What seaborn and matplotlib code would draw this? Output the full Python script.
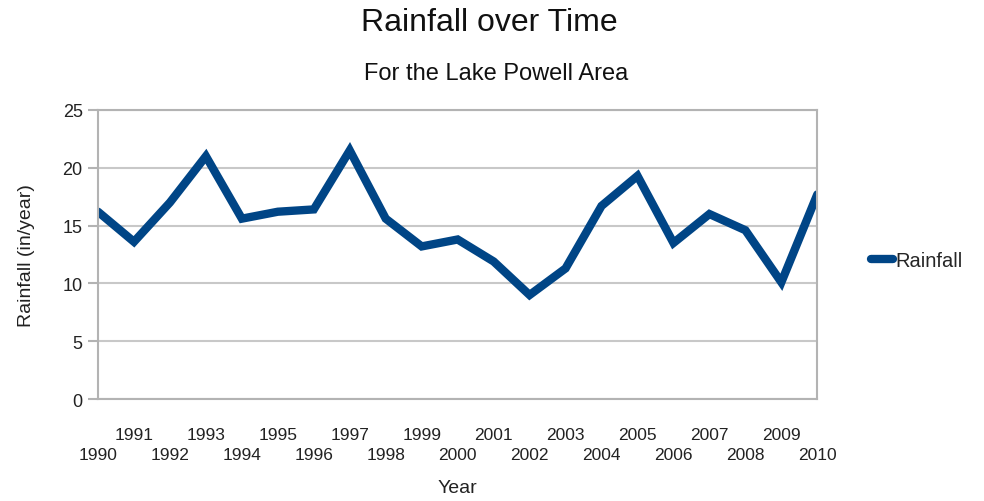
import numpy as np
import pandas as pd
import matplotlib
matplotlib.use("Agg")
import matplotlib.pyplot as plt
import seaborn as sns

years = list(range(1990, 2011))
rainfall = [16.2, 13.6, 17.0, 21.0, 15.6, 16.2, 16.4, 21.5, 15.6, 13.2, 13.8,
            11.9, 9.0, 11.3, 16.7, 19.3, 13.5, 16.0, 14.6, 10.1, 17.7]
yticks = [0, 5, 10, 15, 20, 25]

df = pd.DataFrame({"Year": years, "Rainfall": rainfall})

sns.set_style("white")
plt.rcParams['font.family'] = ['Liberation Sans', 'DejaVu Sans']

fig = plt.figure(figsize=(9.84, 5.02), dpi=100)
ax = fig.add_axes([0.0996, 0.203, 0.731, 0.576])

sns.lineplot(data=df, x="Year", y="Rainfall", color="#004586", linewidth=6,
             label="Rainfall", ax=ax, solid_joinstyle="miter")

ax.set_xlim(1990, 2010)
ax.set_ylim(0, 25)
ax.set_yticks(yticks)
ax.yaxis.grid(True, color="#c8c8c8", linewidth=1.5)
ax.set_axisbelow(True)

# alternate tick label rows: odd years on top, even years below
ax.set_xticks(years)
ax.set_xticklabels([str(y) if y % 2 else "\n" + str(y) for y in years],
                   linespacing=1.45)

for s in ax.spines.values():
    s.set_color("#b3b3b3")
    s.set_linewidth(1.5)

ax.tick_params(axis="x", direction="out", length=7, width=1.5, color="#b3b3b3",
               labelsize=12.5, labelcolor="#222222", pad=13)
ax.tick_params(axis="y", direction="out", length=7, width=1.5, color="#b3b3b3",
               labelsize=13, labelcolor="#222222", pad=4, left=True)

ax.set_xlabel("Year", fontsize=14, color="#222222", labelpad=12)
ax.set_ylabel("Rainfall (in/year)", fontsize=14, color="#222222", labelpad=20)

fig.text(0.497, 0.955, "Rainfall over Time", ha="center", va="center",
         fontsize=23, color="#111111")
fig.text(0.504, 0.853, "For the Lake Powell Area", ha="center", va="center",
         fontsize=17, color="#111111")

leg = ax.legend(loc="center left", bbox_to_anchor=(1.049, 0.48), frameon=False,
                fontsize=14.5, handlelength=1.1, handletextpad=0.15)

fig.savefig("out.png", dpi=100)
